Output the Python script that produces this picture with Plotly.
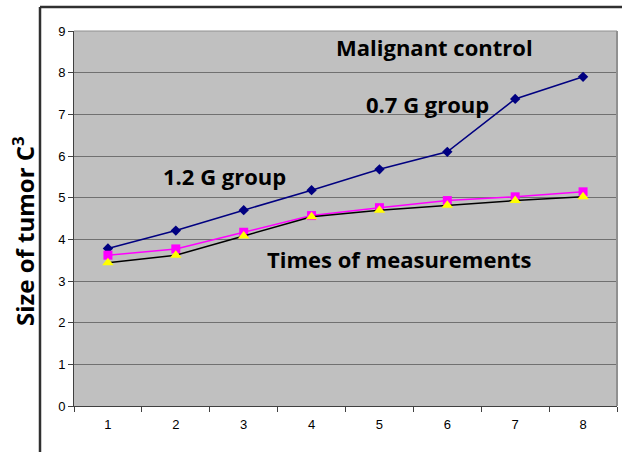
import plotly.graph_objects as go

times = ["1", "2", "3", "4", "5", "6", "7", "8"]
malignant_control = [3.78, 4.21, 4.70, 5.18, 5.68, 6.10, 7.37, 7.90]
group_07g = [3.62, 3.77, 4.17, 4.57, 4.76, 4.93, 5.02, 5.14]
group_12g = [3.44, 3.62, 4.08, 4.54, 4.70, 4.82, 4.93, 5.02]
y_ticks = [0, 1, 2, 3, 4, 5, 6, 7, 8, 9]

fig = go.Figure()
fig.add_trace(go.Scatter(x=times, y=malignant_control, mode="lines+markers",
                         line=dict(color="#000080", width=1.5),
                         marker=dict(symbol="diamond", size=8, color="#000080")))
fig.add_trace(go.Scatter(x=times, y=group_07g, mode="lines+markers",
                         line=dict(color="#FF00FF", width=1.5),
                         marker=dict(symbol="square", size=9, color="#FF00FF")))
fig.add_trace(go.Scatter(x=times, y=group_12g, mode="lines+markers",
                         line=dict(color="#000000", width=1.5),
                         marker=dict(symbol="triangle-up", size=10, color="#FFFF00")))

W, H = 622, 452
L, R, T, B = 74, 5, 31, 46

fig.update_layout(
    width=W, height=H,
    margin=dict(l=L, r=R, t=T, b=B),
    paper_bgcolor="white",
    plot_bgcolor="#C0C0C0",
    showlegend=False,
    xaxis=dict(type="category", range=[-0.5, 7.5], tickson="boundaries",
               ticks="outside", ticklen=5, tickcolor="#404040",
               showgrid=False, showline=True, linecolor="#404040", linewidth=1,
               tickfont=dict(family="Liberation Sans, Arial", size=13, color="black"),
               ticklabelstandoff=6, zeroline=False),
    yaxis=dict(range=[0, 9], tickvals=y_ticks, ticks="outside", ticklen=5,
               tickcolor="#404040", showgrid=True, gridcolor="#707070", gridwidth=1,
               showline=True, linecolor="#404040", linewidth=1, zeroline=False,
               tickfont=dict(family="Liberation Sans, Arial", size=13, color="black")),
    font=dict(family="Open Sans, sans-serif", color="black"),
)

def px_x(px):
    return (px - L) / (W - L - R)

def px_y(py):
    return (H - B - py) / (H - T - B)

# frame lines
fig.add_shape(type="line", xref="paper", yref="paper",
              x0=px_x(40), x1=px_x(W + 5), y0=px_y(7), y1=px_y(7),
              line=dict(color="#303030", width=2.5))
fig.add_shape(type="line", xref="paper", yref="paper",
              x0=px_x(40), x1=px_x(40), y0=px_y(H + 5), y1=px_y(7),
              line=dict(color="#303030", width=2.5))
# plot area border on right/top
fig.add_shape(type="line", xref="paper", yref="paper", x0=1, x1=1, y0=0, y1=1,
              line=dict(color="#909090", width=2))
fig.add_shape(type="line", xref="paper", yref="paper", x0=0, x1=1, y0=1, y1=1,
              line=dict(color="#909090", width=1))

labels = [("Malignant control", 434, 47), ("0.7 G group", 427, 104),
          ("1.2 G group", 224, 176), ("Times of measurements", 399, 259)]
for txt, cx, cy in labels:
    fig.add_annotation(text="<b>" + txt + "</b>", xref="paper", yref="paper",
                       x=px_x(cx), y=px_y(cy), showarrow=False,
                       xanchor="center", yanchor="middle",
                       font=dict(family="Open Sans, sans-serif", size=22, color="black"))

fig.add_annotation(text="<b>Size of tumor C<sup>3</sup></b>", xref="paper", yref="paper",
                   x=px_x(23), y=px_y(231), showarrow=False, textangle=-90,
                   xanchor="center", yanchor="middle",
                   font=dict(family="Open Sans, sans-serif", size=24, color="black"))

fig.write_html("out.html", config={"displayModeBar": False},
               post_script="document.body.style.margin='0';")
